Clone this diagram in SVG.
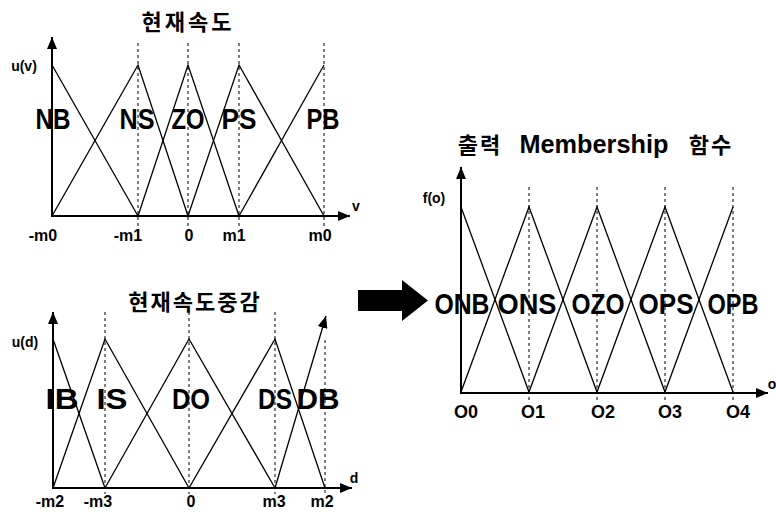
<svg xmlns="http://www.w3.org/2000/svg" width="776" height="517" viewBox="0 0 776 517">
<defs>
<marker id="ah" viewBox="0 0 12 10" refX="12" refY="5" markerWidth="12" markerHeight="10" markerUnits="userSpaceOnUse" orient="auto"><path d="M0,0 L12,5 L0,10 z" fill="#000"/></marker>
<style>
.ax{stroke:#000;stroke-width:2;fill:none}
.tri{stroke:#000;stroke-width:1.3;fill:none}
.dash{stroke:#000;stroke-width:1;stroke-dasharray:3,3;fill:none}
.big{font-family:"Liberation Sans",Arial,sans-serif;font-weight:bold;font-size:30px;text-anchor:middle}
.sm{font-family:"Liberation Sans",Arial,sans-serif;font-weight:bold;font-size:16px;text-anchor:middle}
.ol{font-family:"Liberation Sans",Arial,sans-serif;font-weight:bold;font-size:18px;text-anchor:middle}
.yl{font-family:"Liberation Sans",Arial,sans-serif;font-weight:bold;font-size:14px;text-anchor:middle}
.ti{font-family:"Liberation Sans","Noto Sans CJK KR",sans-serif;font-weight:bold;font-size:22px;text-anchor:middle}
</style>
</defs>
<rect width="776" height="517" fill="#fff"/>

<g id="chart-speed">
<text class="ti" x="188" y="30" letter-spacing="3">현재속도</text>
<line class="ax" x1="52" y1="217" x2="52" y2="37" marker-end="url(#ah)"/>
<line class="ax" x1="51" y1="216" x2="350" y2="216" marker-end="url(#ah)"/>
<g class="dash">
<line x1="138" y1="43" x2="138" y2="226"/>
<line x1="188" y1="43" x2="188" y2="226"/>
<line x1="239" y1="43" x2="239" y2="226"/>
<line x1="324" y1="43" x2="324" y2="226"/>
</g>
<polyline class="tri" points="52,65 138,216"/>
<polyline class="tri" points="52,216 138,65 188,216"/>
<polyline class="tri" points="138,216 188,65 239,216"/>
<polyline class="tri" points="188,216 239,65 324,216"/>
<polyline class="tri" points="239,216 324,65"/>
<text class="yl" x="24" y="71">u(v)</text>
<text class="yl" x="356" y="211">v</text>
<text class="big" x="53" y="129" textLength="35" lengthAdjust="spacingAndGlyphs">NB</text>
<text class="big" x="137" y="129" textLength="35" lengthAdjust="spacingAndGlyphs">NS</text>
<text class="big" x="188" y="129" textLength="33" lengthAdjust="spacingAndGlyphs">ZO</text>
<text class="big" x="239" y="129" textLength="35" lengthAdjust="spacingAndGlyphs">PS</text>
<text class="big" x="323" y="129" textLength="33" lengthAdjust="spacingAndGlyphs">PB</text>
<text class="sm" x="43" y="241">-m0</text>
<text class="sm" x="128" y="241">-m1</text>
<text class="sm" x="189" y="241">0</text>
<text class="sm" x="234" y="241">m1</text>
<text class="sm" x="320" y="241">m0</text>
</g>

<g id="chart-accel">
<text class="ti" x="195" y="310" letter-spacing="2">현재속도중감</text>
<line class="ax" x1="53" y1="489" x2="53" y2="312" marker-end="url(#ah)"/>
<line class="ax" x1="52" y1="488" x2="352" y2="488" marker-end="url(#ah)"/>
<g class="dash">
<line x1="105" y1="312" x2="105" y2="494"/>
<line x1="189" y1="312" x2="189" y2="494"/>
<line x1="275" y1="312" x2="275" y2="494"/>
<line x1="325" y1="340" x2="325" y2="494"/>
</g>
<polyline class="tri" points="53,339 105,488"/>
<polyline class="tri" points="53,488 105,339 189,488"/>
<polyline class="tri" points="105,488 189,339 275,488"/>
<polyline class="tri" points="189,488 275,339 325,488"/>
<line class="tri" x1="275" y1="488" x2="326" y2="316" marker-end="url(#ah)"/>
<text class="yl" x="25" y="347">u(d)</text>
<text class="yl" x="354" y="483">d</text>
<text class="big" x="62" y="409" textLength="33" lengthAdjust="spacingAndGlyphs">IB</text>
<text class="big" x="112" y="409" textLength="31" lengthAdjust="spacingAndGlyphs">IS</text>
<text class="big" x="191" y="409" textLength="38" lengthAdjust="spacingAndGlyphs">DO</text>
<text class="big" x="275" y="409" textLength="34" lengthAdjust="spacingAndGlyphs">DS</text>
<text class="big" x="318" y="409" textLength="43" lengthAdjust="spacingAndGlyphs">DB</text>
<text class="sm" x="50" y="507">-m2</text>
<text class="sm" x="98" y="507">-m3</text>
<text class="sm" x="191" y="507">0</text>
<text class="sm" x="274" y="507">m3</text>
<text class="sm" x="322" y="507">m2</text>
</g>

<g id="chart-output">
<text class="ti" y="153"><tspan x="483" letter-spacing="2">출력</tspan> <tspan x="597" font-size="25" textLength="149" lengthAdjust="spacingAndGlyphs">Membership</tspan> <tspan x="711" letter-spacing="2">함수</tspan></text>
<line class="ax" x1="461" y1="393" x2="461" y2="167" marker-end="url(#ah)"/>
<line class="ax" x1="460" y1="393" x2="768" y2="393" marker-end="url(#ah)"/>
<g class="dash">
<line x1="529" y1="187" x2="529" y2="400"/>
<line x1="597" y1="187" x2="597" y2="400"/>
<line x1="665" y1="187" x2="665" y2="400"/>
<line x1="733" y1="187" x2="733" y2="400"/>
</g>
<polyline class="tri" points="461,207 529,392 597,207 665,392 733,207"/>
<polyline class="tri" points="461,392 529,207 597,392 665,207 733,392"/>
<text class="yl" x="434" y="203">f(o)</text>
<text class="yl" x="772" y="389">o</text>
<text class="big" x="462" y="314" textLength="55" lengthAdjust="spacingAndGlyphs">ONB</text>
<text class="big" x="527" y="314" textLength="59" lengthAdjust="spacingAndGlyphs">ONS</text>
<text class="big" x="598" y="314" textLength="53" lengthAdjust="spacingAndGlyphs">OZO</text>
<text class="big" x="666" y="314" textLength="55" lengthAdjust="spacingAndGlyphs">OPS</text>
<text class="big" x="733" y="314" textLength="51" lengthAdjust="spacingAndGlyphs">OPB</text>
<text class="ol" x="466" y="418">O0</text>
<text class="ol" x="533" y="418">O1</text>
<text class="ol" x="603" y="418">O2</text>
<text class="ol" x="670" y="418">O3</text>
<text class="ol" x="738" y="418">O4</text>
</g>

<g id="connectors">
<path d="M358,290 L402,290 L402,280 L428,300.5 L402,321 L402,311 L358,311 Z" fill="#000"/>
</g>
</svg>
